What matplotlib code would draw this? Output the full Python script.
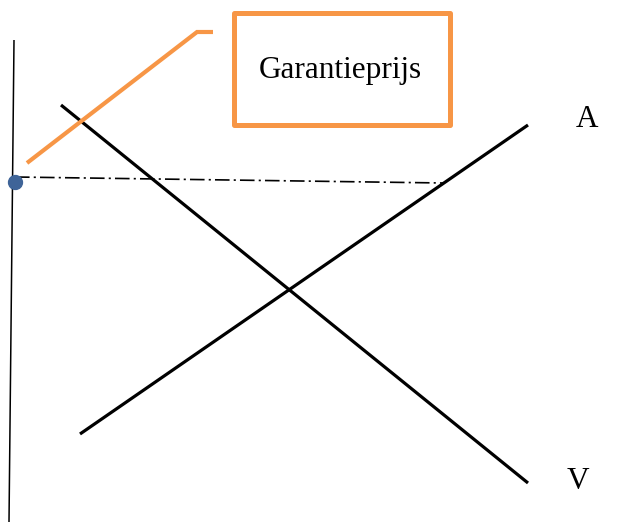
import matplotlib
matplotlib.use("Agg")
import matplotlib.pyplot as plt
from matplotlib.patches import Rectangle

plt.rcParams['lines.scale_dashes'] = False

# Diagram geometry (in pixel-like data units)
axis_x = [14, 9]
axis_y = [40, 522]
supply_x = [80, 528]      # A (aanbod)
supply_y = [434, 125]
demand_x = [61, 528]      # V (vraag)
demand_y = [105, 483]
guarantee_x = [15, 443]
guarantee_y = [177, 183]
dot_x = [15]
dot_y = [182]
callout_x = [27, 197, 213]
callout_y = [163, 32, 32]
labels = ["A", "V", "Garantieprijs"]

fig = plt.figure(figsize=(6.31, 5.22), dpi=100)
ax = fig.add_axes([0, 0, 1, 1])
ax.set_xlim(0, 631)
ax.set_ylim(522, 0)
ax.axis('off')

orange = '#F79646'
ax.plot(axis_x, axis_y, color='black', lw=1.1, solid_capstyle='butt')
ax.plot(supply_x, supply_y, color='black', lw=2.3, solid_capstyle='butt')
ax.plot(demand_x, demand_y, color='black', lw=2.3, solid_capstyle='butt')
ax.plot(guarantee_x, guarantee_y, color='black', lw=1.2,
        linestyle=(0, (10.5, 3, 1.5, 3)))
ax.plot(dot_x, dot_y, 'o', color='#3F6498', markersize=10, zorder=5)
ax.plot(callout_x, callout_y, color=orange, lw=3.0, solid_capstyle='butt',
        solid_joinstyle='miter')
ax.add_patch(Rectangle((233.5, 12.5), 216, 112, fill=False, edgecolor=orange,
                       lw=3.6, joinstyle='round'))

font = dict(family='Liberation Serif', fontsize=22.5, color='black')
ax.text(340, 78, labels[2], ha='center', va='baseline', **font)
ax.text(587, 127, labels[0], ha='center', va='baseline', **font)
ax.text(578, 489, labels[1], ha='center', va='baseline', **font)

fig.savefig('out.png', dpi=100)
